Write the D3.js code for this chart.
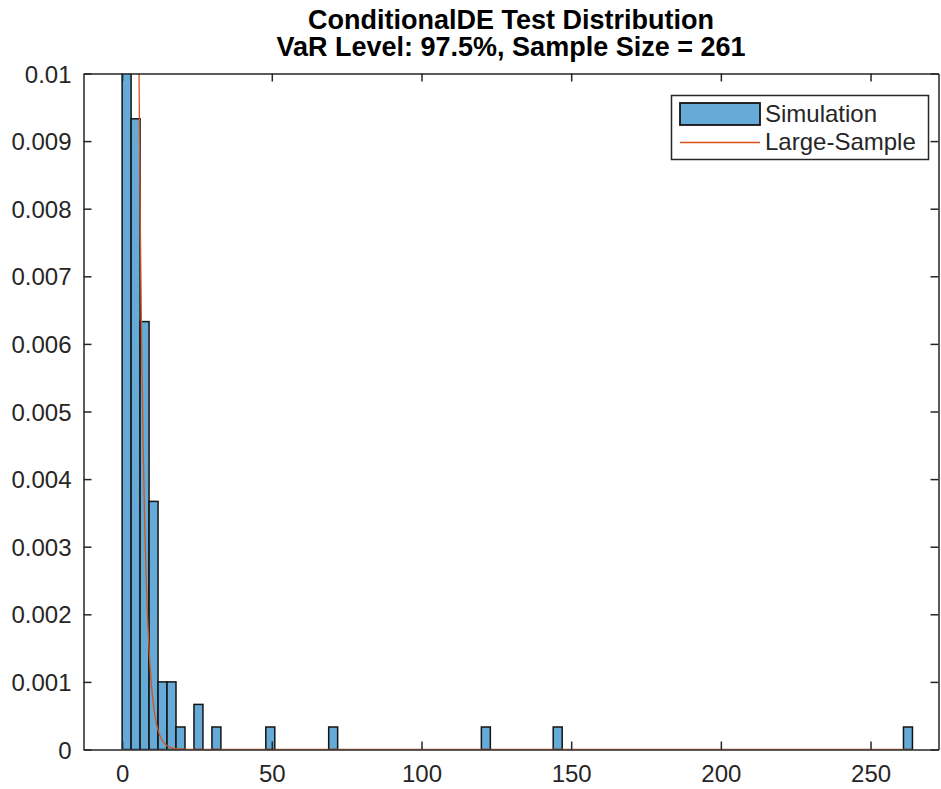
<!DOCTYPE html>
<html>
<head>
<meta charset="utf-8">
<script src="https://cdn.jsdelivr.net/npm/d3@7"></script>
<style>
  html, body { margin: 0; padding: 0; background: #fff; }
  svg { display: block; font-family: "Liberation Sans", Arial, Helvetica, sans-serif; }
</style>
</head>
<body>
<svg id="chart" width="941" height="789"></svg>
<script>
// Histogram of the simulated test statistic (pdf-normalised, bin width 3)
const binWidth = 3;
const binLower = [0, 3, 6, 9, 12, 15, 18, 24, 30, 48, 69, 120, 144, 261];
const binDensity = [0.309, 0.00933, 0.00633, 0.00367, 0.001, 0.001, 0.000333,
                    0.000667, 0.000333, 0.000333, 0.000333, 0.000333, 0.000333, 0.000333];

// Large-sample (chi-square, 1 dof) density
const pdfX = [4, 5, 5.6, 6, 6.5, 7, 7.5, 8, 8.5, 9, 9.5, 10, 10.5, 11, 12, 13, 14, 16, 18, 20, 25, 30, 263];
const pdfY = [0.0270, 0.01465, 0.01025, 0.00811, 0.00607, 0.00455, 0.00343, 0.00258, 0.00195,
              0.00148, 0.00112, 0.00085, 0.000646, 0.00049, 0.000286, 0.000166, 0.000097,
              0.0000335, 0.0000116, 0.000004, 0.0000003, 0, 0];

const xTicks = [0, 50, 100, 150, 200, 250];
const yTicks = [0, 0.001, 0.002, 0.003, 0.004, 0.005, 0.006, 0.007, 0.008, 0.009, 0.01];
const xDomain = [-12.9, 272.7];
const yDomain = [0, 0.01];

const titleLines = ["ConditionalDE Test Distribution", "VaR Level: 97.5%, Sample Size = 261"];
const legendLabels = ["Simulation", "Large-Sample"];

const m = { left: 83.5, right: 938.5, top: 73.5, bottom: 749.5 };
const axisColor = "rgb(38,38,38)";
const barFill = "rgb(102,170,215)";
const lineColor = "#D95319";

const svg = d3.select("#chart");
const x = d3.scaleLinear().domain(xDomain).range([m.left, m.right]);
const y = d3.scaleLinear().domain(yDomain).range([m.bottom, m.top]);

svg.append("defs").append("clipPath").attr("id", "plotClip")
  .append("rect")
  .attr("x", m.left).attr("y", m.top)
  .attr("width", m.right - m.left).attr("height", m.bottom - m.top);

const plot = svg.append("g").attr("clip-path", "url(#plotClip)");

// Bars
const bins = binLower.map((lo, i) => ({ lo, hi: lo + binWidth, v: binDensity[i] }));
plot.selectAll("rect.bar").data(bins).join("rect")
  .attr("class", "bar")
  .attr("x", d => x(d.lo))
  .attr("width", d => x(d.hi) - x(d.lo))
  .attr("y", d => y(d.v))
  .attr("height", d => y(0) - y(d.v))
  .attr("fill", barFill)
  .attr("stroke", "#141414")
  .attr("stroke-width", 1.5);

// Theoretical density
const pts = pdfX.map((v, i) => [v, pdfY[i]]);
plot.append("path")
  .datum(pts)
  .attr("fill", "none")
  .attr("stroke", lineColor)
  .attr("stroke-width", 1.3)
  .attr("d", d3.line().x(d => x(d[0])).y(d => y(d[1])).curve(d3.curveMonotoneX));

// Axes (box with inward ticks on all four sides)
const tickLen = 8;
const fontSize = 24;

const bottomAxis = d3.axisBottom(x).tickValues(xTicks).tickSizeInner(-tickLen).tickSizeOuter(0)
  .tickPadding(15).tickFormat(d3.format("d"));
const topAxis = d3.axisTop(x).tickValues(xTicks).tickSizeInner(-tickLen).tickSizeOuter(0).tickFormat("");
const leftAxis = d3.axisLeft(y).tickValues(yTicks).tickSizeInner(-tickLen).tickSizeOuter(0)
  .tickPadding(12).tickFormat(d => d === 0 ? "0" : d3.format("")(+d.toFixed(3)));
const rightAxis = d3.axisRight(y).tickValues(yTicks).tickSizeInner(-tickLen).tickSizeOuter(0).tickFormat("");

function styleAxis(g) {
  g.selectAll(".domain").attr("stroke", axisColor).attr("stroke-width", 1.5);
  g.selectAll(".tick line").attr("stroke", axisColor).attr("stroke-width", 1.5);
  g.selectAll(".tick text").attr("fill", axisColor).attr("font-size", fontSize)
    .attr("font-family", "'Liberation Sans', Arial, Helvetica, sans-serif");
}

svg.append("g").attr("transform", `translate(0,${m.bottom})`).call(bottomAxis).call(styleAxis)
  .selectAll(".tick text").attr("dy", "0.71em");
svg.append("g").attr("transform", `translate(0,${m.top})`).call(topAxis).call(styleAxis);
svg.append("g").attr("transform", `translate(${m.left},0)`).call(leftAxis).call(styleAxis)
  .selectAll(".tick text").attr("dy", "0.36em");
svg.append("g").attr("transform", `translate(${m.right},0)`).call(rightAxis).call(styleAxis);

// Title
const cx = (m.left + m.right) / 2;
svg.append("g").selectAll("text").data(titleLines).join("text")
  .attr("x", cx)
  .attr("y", (d, i) => 28.5 + i * 27)
  .attr("text-anchor", "middle")
  .attr("font-weight", "bold")
  .attr("font-size", 27)
  .attr("fill", "#000")
  .text(d => d);

// Legend
const lg = svg.append("g");
lg.append("rect")
  .attr("x", 671.5).attr("y", 95.5).attr("width", 257).attr("height", 64)
  .attr("fill", "#fff").attr("stroke", axisColor).attr("stroke-width", 1.5);
lg.append("rect")
  .attr("x", 680).attr("y", 103).attr("width", 80).attr("height", 22)
  .attr("fill", barFill).attr("stroke", "#141414").attr("stroke-width", 1.8);
lg.append("line")
  .attr("x1", 680).attr("x2", 760).attr("y1", 142.5).attr("y2", 142.5)
  .attr("stroke", lineColor).attr("stroke-width", 1.5);
lg.selectAll("text").data(legendLabels).join("text")
  .attr("x", 765)
  .attr("y", (d, i) => 122 + i * 27.5)
  .attr("font-size", fontSize)
  .attr("fill", axisColor)
  .text(d => d);
</script>
</body>
</html>
